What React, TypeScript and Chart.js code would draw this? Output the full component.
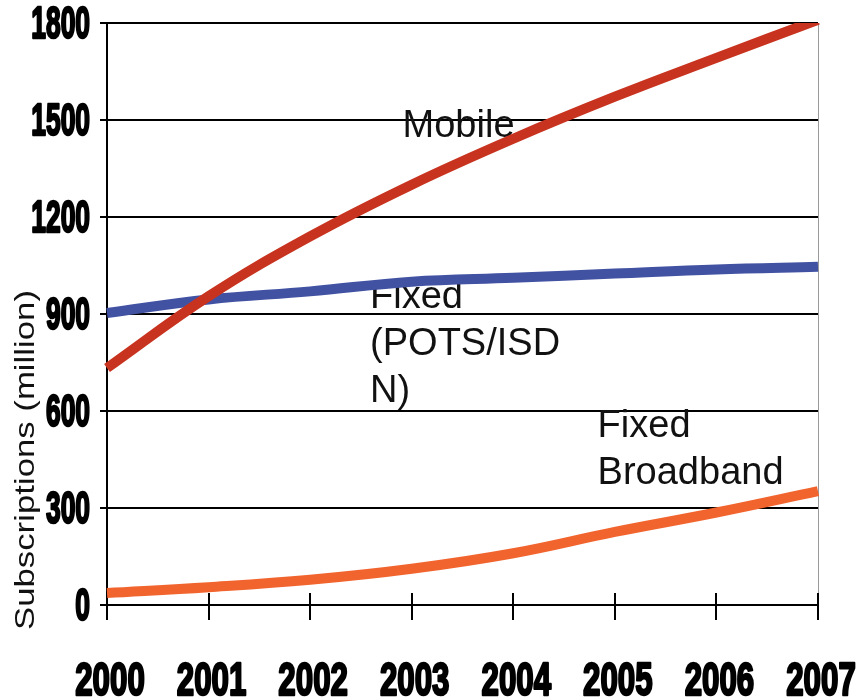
import React, { useEffect, useRef } from "react";
import { Chart, registerables } from "chart.js";

Chart.register(...registerables);

const years = ["2000", "2001", "2002", "2003", "2004", "2005", "2006", "2007"];
const mobile = [733, 955, 1140, 1300, 1442, 1572, 1692, 1810];
const fixedPots = [903, 945, 970, 1000, 1012, 1025, 1038, 1046];
const broadband = [37, 55, 78, 112, 160, 226, 286, 352];
const yTicks = [0, 300, 600, 900, 1200, 1500, 1800];

const annotationLines = [["Mobile"], ["Fixed", "(POTS/ISD", "N)"], ["Fixed", "Broadband"]];
const annotationX = [2.91, 2.59, 4.83];
const annotationY = [1447, 918, 520];

const yTitle = "Subscriptions (million)";

const textPlugin = {
  id: "customText",
  beforeDatasetsDraw(chart: any) {
    const { ctx, chartArea, scales } = chart;
    const xs = scales.x;
    const ys = scales.y;
    ctx.save();
    ctx.strokeStyle = "#9a9a9a";
    ctx.lineWidth = 1;
    ctx.beginPath();
    ctx.moveTo(chartArea.right + 0.5, chartArea.top);
    ctx.lineTo(chartArea.right + 0.5, chartArea.bottom);
    ctx.stroke();
    ctx.strokeStyle = "#000";
    ctx.lineWidth = 2;
    years.forEach((_, i) => {
      const px = Math.round(xs.getPixelForValue(i));
      ctx.beginPath();
      ctx.moveTo(px, chartArea.bottom - 12);
      ctx.lineTo(px, chartArea.bottom + 15);
      ctx.stroke();
    });
    ctx.fillStyle = "#111";
    ctx.font = "38px 'Liberation Sans', Arial, sans-serif";
    ctx.textAlign = "left";
    ctx.textBaseline = "alphabetic";
    annotationLines.forEach((lines, k) => {
      const px = xs.getPixelForValue(annotationX[k]);
      const py = ys.getPixelForValue(annotationY[k]);
      lines.forEach((t, j) => ctx.fillText(t, px, py + j * 47));
    });
    ctx.restore();
  },
  afterDraw(chart: any) {
    const { ctx, chartArea, scales } = chart;
    const xs = scales.x;
    const ys = scales.y;
    ctx.save();
    ctx.fillStyle = "#000";
    ctx.strokeStyle = "#000";
    ctx.lineJoin = "round";
    ctx.font = "bold 44px 'Liberation Sans', Arial, sans-serif";
    ctx.textAlign = "right";
    ctx.textBaseline = "middle";
    yTicks.forEach((v) => {
      const py = ys.getPixelForValue(v);
      ctx.save();
      ctx.translate(chartArea.left - 17, py + 3);
      ctx.scale(0.6, 1);
      ctx.lineWidth = 2.5;
      ctx.strokeText(String(v), 0, 0);
      ctx.fillText(String(v), 0, 0);
      ctx.restore();
    });
    ctx.font = "bold 46px 'Liberation Sans', Arial, sans-serif";
    ctx.textAlign = "center";
    ctx.textBaseline = "alphabetic";
    years.forEach((y, i) => {
      const px = xs.getPixelForValue(i);
      ctx.save();
      ctx.translate(px + 3, chartArea.bottom + 90);
      ctx.scale(0.68, 1);
      ctx.lineWidth = 2.5;
      ctx.strokeText(y, 0, 0);
      ctx.fillText(y, 0, 0);
      ctx.restore();
    });
    ctx.font = "28px 'Liberation Sans', Arial, sans-serif";
    ctx.textAlign = "left";
    ctx.textBaseline = "alphabetic";
    const w = ctx.measureText(yTitle).width;
    ctx.save();
    ctx.translate(34, chartArea.bottom + 25);
    ctx.rotate(-Math.PI / 2);
    ctx.scale(340 / w, 1);
    ctx.fillStyle = "#111";
    ctx.fillText(yTitle, 0, 0);
    ctx.restore();
    ctx.restore();
  },
};

export default function App() {
  const ref = useRef<HTMLCanvasElement>(null);
  useEffect(() => {
    document.body.style.margin = "0";
    const chart = new Chart(ref.current!, {
      type: "line",
      data: {
        labels: years,
        datasets: [
          { label: "Mobile", data: mobile, borderColor: "#C8331F", borderWidth: 10, pointRadius: 0, tension: 0.4, fill: false },
          { label: "Fixed (POTS/ISDN)", data: fixedPots, borderColor: "#4252A3", borderWidth: 10, pointRadius: 0, tension: 0.4, fill: false },
          { label: "Fixed Broadband", data: broadband, borderColor: "#F2642E", borderWidth: 10, pointRadius: 0, tension: 0.4, fill: false },
        ],
      },
      options: {
        animation: false,
        responsive: false,
        layout: { padding: { top: 23, right: 46, left: 0, bottom: 0 } },
        plugins: { legend: { display: false }, tooltip: { enabled: false } },
        scales: {
          x: {
            type: "category",
            offset: false,
            grid: { display: false },
            border: { display: true, color: "#000", width: 2 },
            ticks: { display: false },
            afterFit: (s: any) => { s.height = 95; },
          },
          y: {
            min: 0,
            max: 1800,
            ticks: { display: false, stepSize: 300 },
            grid: { color: "#000", lineWidth: 2, drawTicks: true, tickLength: 7 },
            border: { display: true, color: "#000", width: 2 },
            afterFit: (s: any) => { s.width = 107; },
          },
        },
      },
      plugins: [textPlugin],
    });
    return () => chart.destroy();
  }, []);
  return (
    <div style={{ width: 864, height: 700, background: "#fff" }}>
      <canvas ref={ref} width={864} height={700} />
    </div>
  );
}
